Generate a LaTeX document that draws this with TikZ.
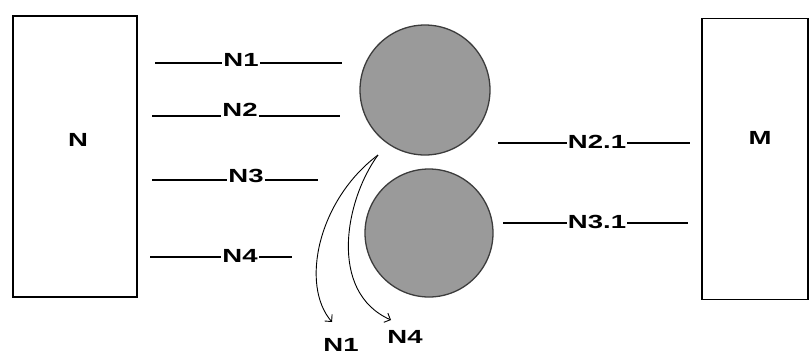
\documentclass[tikz,border=0pt]{standalone}
\usepackage{fontspec}
\setmainfont{Liberation Sans}
\newfontfamily\widesans[FakeStretch=1.45]{Liberation Sans}
\usetikzlibrary{arrows.meta, positioning}
\definecolor{discgray}{HTML}{9A9A9A}
\definecolor{discedge}{HTML}{3C3C3C}

\begin{document}
\begin{tikzpicture}[
  x=1pt, y=-1pt,
  unit/.style={draw, line width=1.4pt, minimum width=124pt, minimum height=281pt},
  disc/.style={circle, draw=discedge, line width=1.3pt, fill=discgray, minimum size=128pt, inner sep=0pt},
  tag/.style={inner sep=1pt, font=\widesans\bfseries\fontsize{19}{22}\selectfont},
  wire/.style={line width=1.5pt},
  flow/.style={-{Straight Barb[length=5pt, width=10pt]}, line width=0.9pt}
]
  \useasboundingbox (0,0) rectangle (812,357);

  % the two blocks
  \node[unit] (N) at (75,156.5) {};
  \node[tag] (Nlab) at (78,140) {N};
  \node[unit, minimum width=106pt] (M) at (755,159) {};
  \node[tag] (Mlab) at (760,138) {M};

  % the two discs
  \node[disc, minimum size=130pt] (d1) at (425,90) {};
  \node[disc] (d2) at (429,233) {};

  % lines from N
  \coordinate (a1) at (155,63);  \coordinate (b1) at (342,63);
  \coordinate (a2) at (152,116); \coordinate (b2) at (340,116);
  \coordinate (a3) at (152,180); \coordinate (b3) at (318,180);
  \coordinate (a4) at (150,257); \coordinate (b4) at (292,257);
  \node[tag] (n1) at (241,60) {N1};
  \node[tag] (n2) at (240,110) {N2};
  \node[tag] (n3) at (246,176) {N3};
  \node[tag] (n4) at (240,256) {N4};
  \draw[wire] (a1) -- (a1 -| n1.west) (n1.east |- b1) -- (b1);
  \draw[wire] (a2) -- (a2 -| n2.west) (n2.east |- b2) -- (b2);
  \draw[wire] (a3) -- (a3 -| n3.west) (n3.east |- b3) -- (b3);
  \draw[wire] (a4) -- (a4 -| n4.west) (n4.east |- b4) -- (b4);

  % lines to M
  \coordinate (a5) at (498,143); \coordinate (b5) at (690,143);
  \coordinate (a6) at (503,223); \coordinate (b6) at (688,223);
  \node[tag] (n21) at (597,142) {N2.1};
  \node[tag] (n31) at (597,222) {N3.1};
  \draw[wire] (a5) -- (a5 -| n21.west) (n21.east |- b5) -- (b5);
  \draw[wire] (a6) -- (a6 -| n31.west) (n31.east |- b6) -- (b6);

  % split outputs
  \coordinate (src) at (378,155);
  \node[tag] (o1) at (341,345) {N1};
  \node[tag] (o4) at (405,337) {N4};
  \draw[flow] (src) .. controls (318,200) and (300,285) .. (332,322);
  \draw[flow] (src) .. controls (345,200) and (328,292) .. (391,320);
\end{tikzpicture}
\end{document}
